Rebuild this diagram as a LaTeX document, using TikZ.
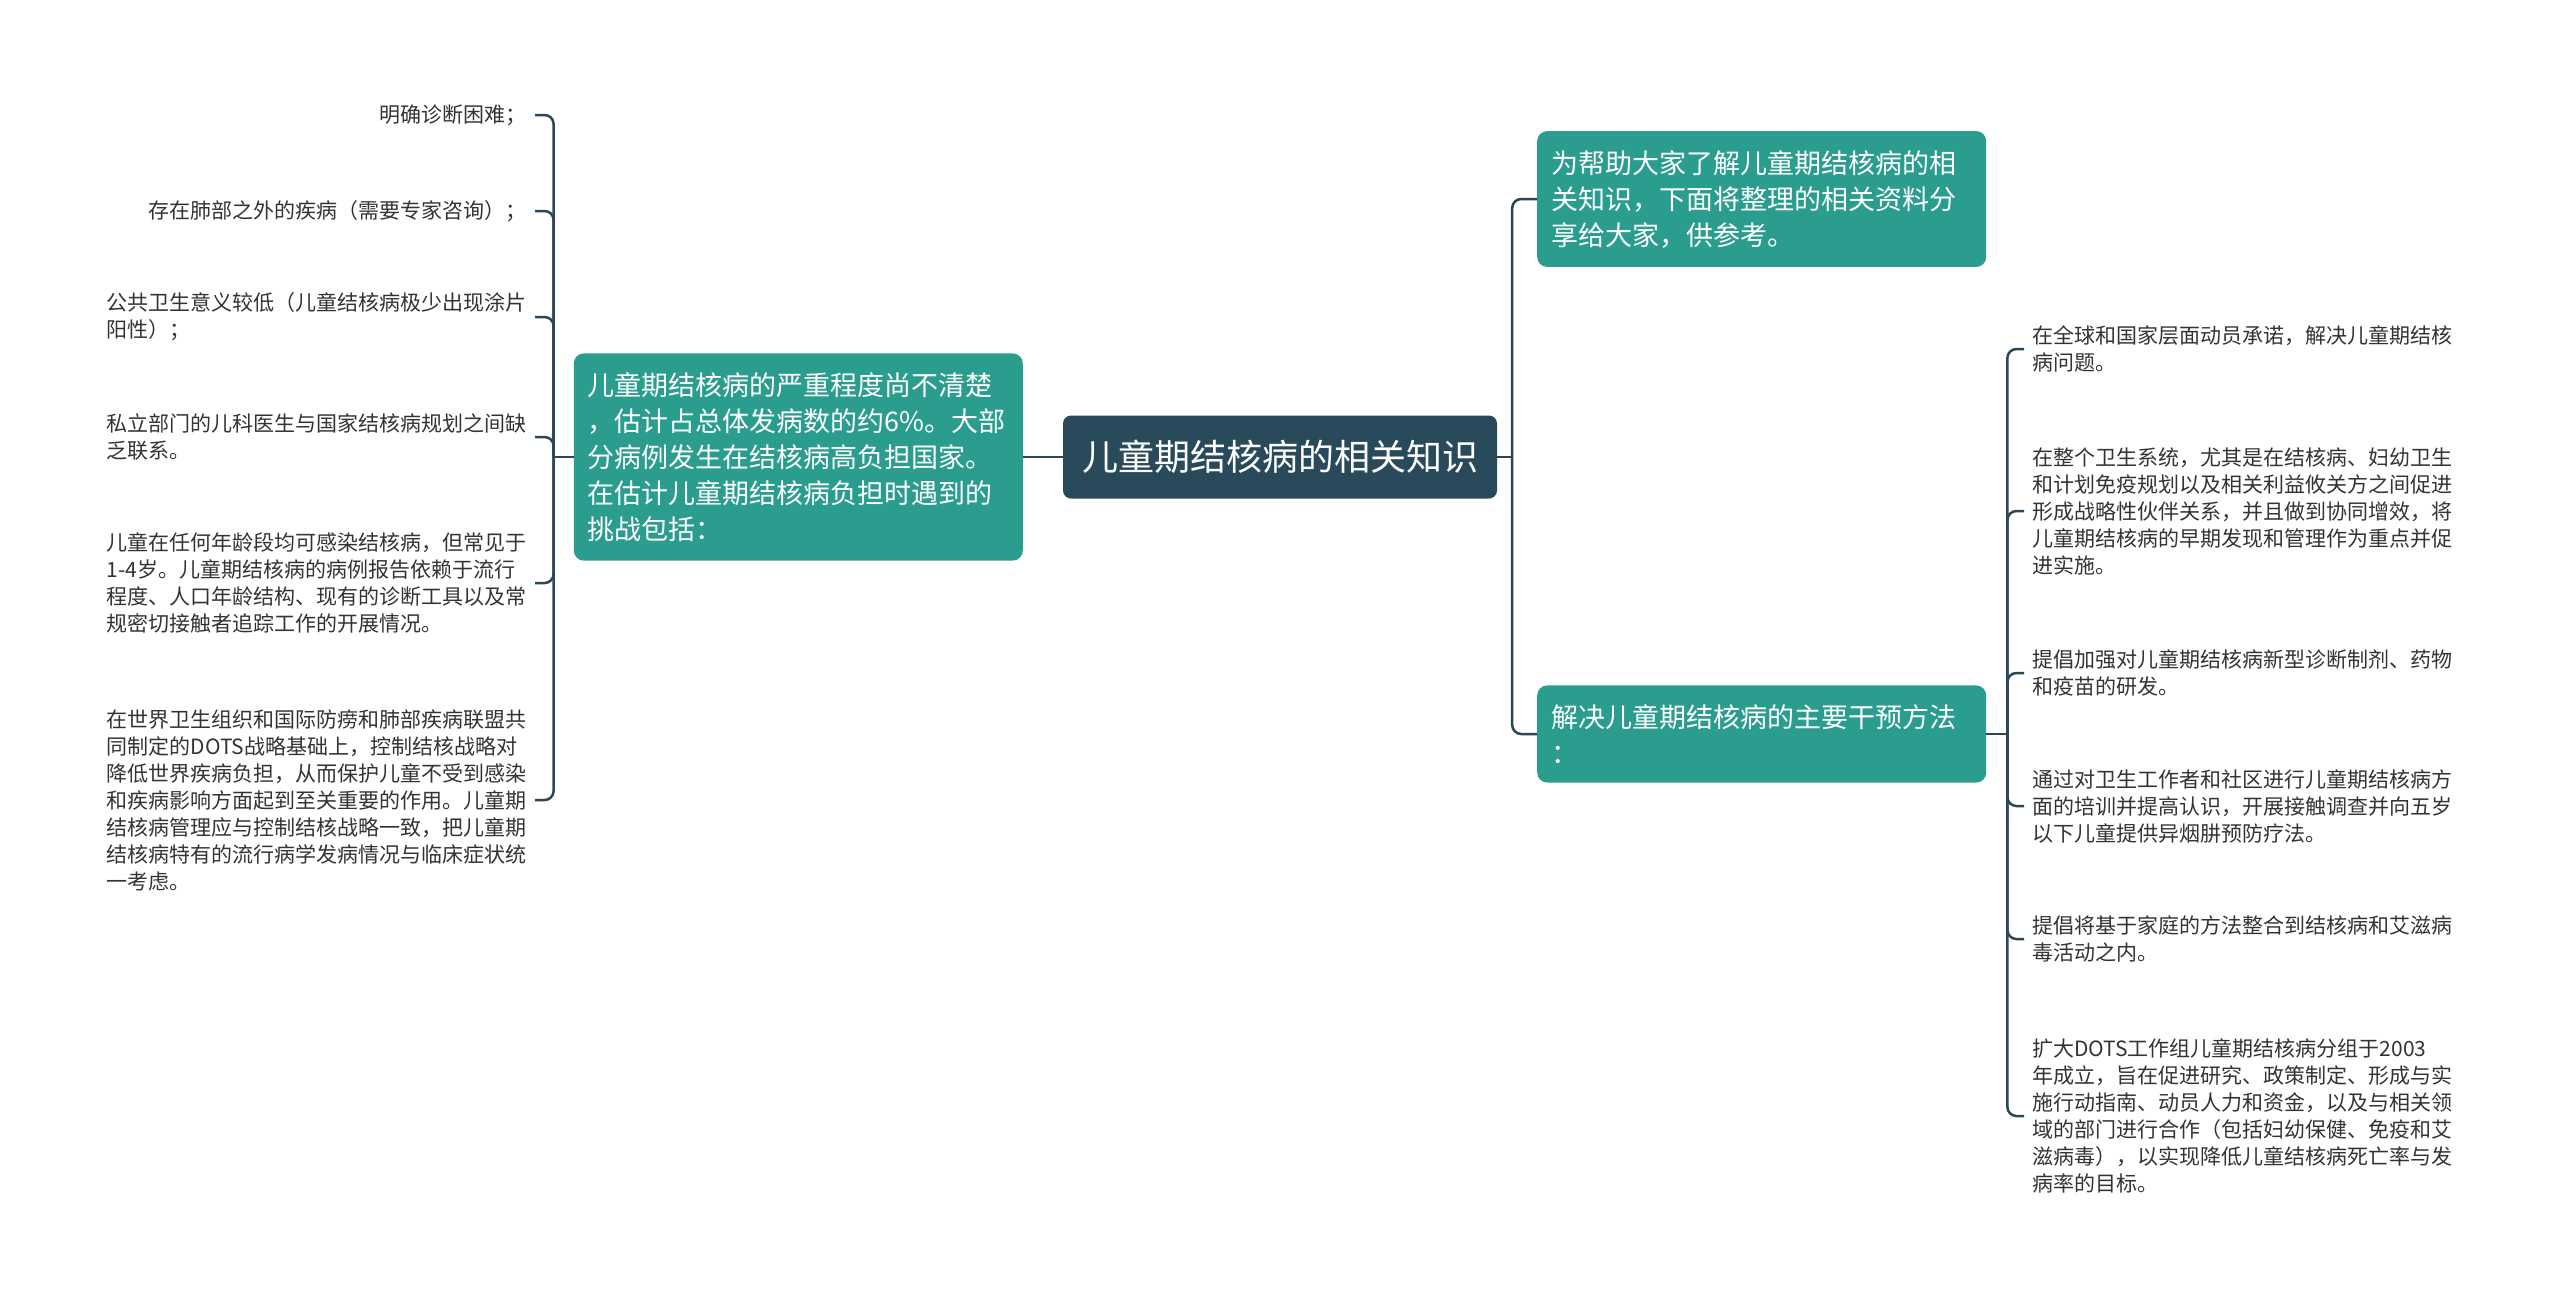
\documentclass[tikz,border=0pt]{standalone}
\usepackage{fontspec}
\setmainfont{Noto Sans CJK SC}
\usepackage{tikz}
\usetikzlibrary{positioning, calc}
\definecolor{rootfill}{HTML}{284A5A}
\definecolor{topicfill}{HTML}{2A9D8F}
\definecolor{linkcol}{HTML}{2B4655}
\definecolor{leaftext}{HTML}{333333}

\begin{document}
\begin{tikzpicture}[x=1pt, y=-1pt,
    root/.style={fill=rootfill, text=white, rounded corners=8pt, minimum width=434pt, minimum height=83pt, font=\fontsize{36}{44}\selectfont},
    topic/.style={fill=topicfill, text=white, rounded corners=10pt, text width=421pt, inner xsep=14pt, inner ysep=19pt, align=left, font=\fontsize{27}{36}\selectfont},
    leaf/.style={text=leaftext, inner xsep=8pt, inner ysep=2pt, align=left, font=\fontsize{21}{27}\selectfont},
    link/.style={draw=linkcol, line width=2.5pt}]
    \fill[white] (0, 0) rectangle (2560, 1299);
    \useasboundingbox (0, 0) rectangle (2560, 1299);
    \node[root] (Root) at (1280, 457) {儿童期结核病的相关知识};
    \node[topic, anchor=east] (L) at (1023, 457) {儿童期结核病的严重程度尚不清楚\\，估计占总体发病数的约6\%。大部\\分病例发生在结核病高负担国家。\\在估计儿童期结核病负担时遇到的\\挑战包括：};
    \node[topic, anchor=west] (RT) at (1537, 199) {为帮助大家了解儿童期结核病的相\\关知识，下面将整理的相关资料分\\享给大家，供参考。};
    \node[topic, anchor=west] (RB) at (1537, 734) {解决儿童期结核病的主要干预方法\\：};
    \node[leaf, anchor=east] (L1) at (535, 115) {明确诊断困难；};
    \node[leaf, anchor=east] (L2) at (535, 211) {存在肺部之外的疾病（需要专家咨询）；};
    \node[leaf, anchor=east] (L3) at (535, 317) {公共卫生意义较低（儿童结核病极少出现涂片\\阳性）；};
    \node[leaf, anchor=east] (L4) at (535, 437) {私立部门的儿科医生与国家结核病规划之间缺\\乏联系。};
    \node[leaf, anchor=east] (L5) at (535, 583) {儿童在任何年龄段均可感染结核病，但常见于\\1-4岁。儿童期结核病的病例报告依赖于流行\\程度、人口年龄结构、现有的诊断工具以及常\\规密切接触者追踪工作的开展情况。};
    \node[leaf, anchor=east] (L6) at (535, 800) {在世界卫生组织和国际防痨和肺部疾病联盟共\\同制定的DOTS战略基础上，控制结核战略对\\降低世界疾病负担，从而保护儿童不受到感染\\和疾病影响方面起到至关重要的作用。儿童期\\结核病管理应与控制结核战略一致，把儿童期\\结核病特有的流行病学发病情况与临床症状统\\一考虑。};
    \node[leaf, anchor=west] (R1) at (2024, 349) {在全球和国家层面动员承诺，解决儿童期结核\\病问题。};
    \node[leaf, anchor=west] (R2) at (2024, 511) {在整个卫生系统，尤其是在结核病、妇幼卫生\\和计划免疫规划以及相关利益攸关方之间促进\\形成战略性伙伴关系，并且做到协同增效，将\\儿童期结核病的早期发现和管理作为重点并促\\进实施。};
    \node[leaf, anchor=west] (R3) at (2024, 673) {提倡加强对儿童期结核病新型诊断制剂、药物\\和疫苗的研发。};
    \node[leaf, anchor=west] (R4) at (2024, 806) {通过对卫生工作者和社区进行儿童期结核病方\\面的培训并提高认识，开展接触调查并向五岁\\以下儿童提供异烟肼预防疗法。};
    \node[leaf, anchor=west] (R5) at (2024, 939) {提倡将基于家庭的方法整合到结核病和艾滋病\\毒活动之内。};
    \node[leaf, anchor=west] (R6) at (2024, 1116) {扩大DOTS工作组儿童期结核病分组于2003\\年成立，旨在促进研究、政策制定、形成与实\\施行动指南、动员人力和资金，以及与相关领\\域的部门进行合作（包括妇幼保健、免疫和艾\\滋病毒），以实现降低儿童结核病死亡率与发\\病率的目标。};
    \draw[link] (Root.west) -- (L.east);
    \draw[link] (Root.east) -- ++(15, 0) coordinate (Rj);
    \draw[link, rounded corners=9pt] (Rj) |- (RT.west);
    \draw[link, rounded corners=9pt] (Rj) |- (RB.west);
    \draw[link] (L.west) -- ++(-20, 0) coordinate (Lj);
    \draw[link, rounded corners=9pt] (Lj) |- (L1.east);
    \draw[link, rounded corners=9pt] (Lj) |- (L2.east);
    \draw[link, rounded corners=9pt] (Lj) |- (L3.east);
    \draw[link, rounded corners=9pt] (Lj) |- (L4.east);
    \draw[link, rounded corners=9pt] (Lj) |- (L5.east);
    \draw[link, rounded corners=9pt] (Lj) |- (L6.east);
    \draw[link] (RB.east) -- ++(21, 0) coordinate (Bj);
    \draw[link, rounded corners=9pt] (Bj) |- (R1.west);
    \draw[link, rounded corners=9pt] (Bj) |- (R2.west);
    \draw[link, rounded corners=9pt] (Bj) |- (R3.west);
    \draw[link, rounded corners=9pt] (Bj) |- (R4.west);
    \draw[link, rounded corners=9pt] (Bj) |- (R5.west);
    \draw[link, rounded corners=9pt] (Bj) |- (R6.west);
\end{tikzpicture}
\end{document}
